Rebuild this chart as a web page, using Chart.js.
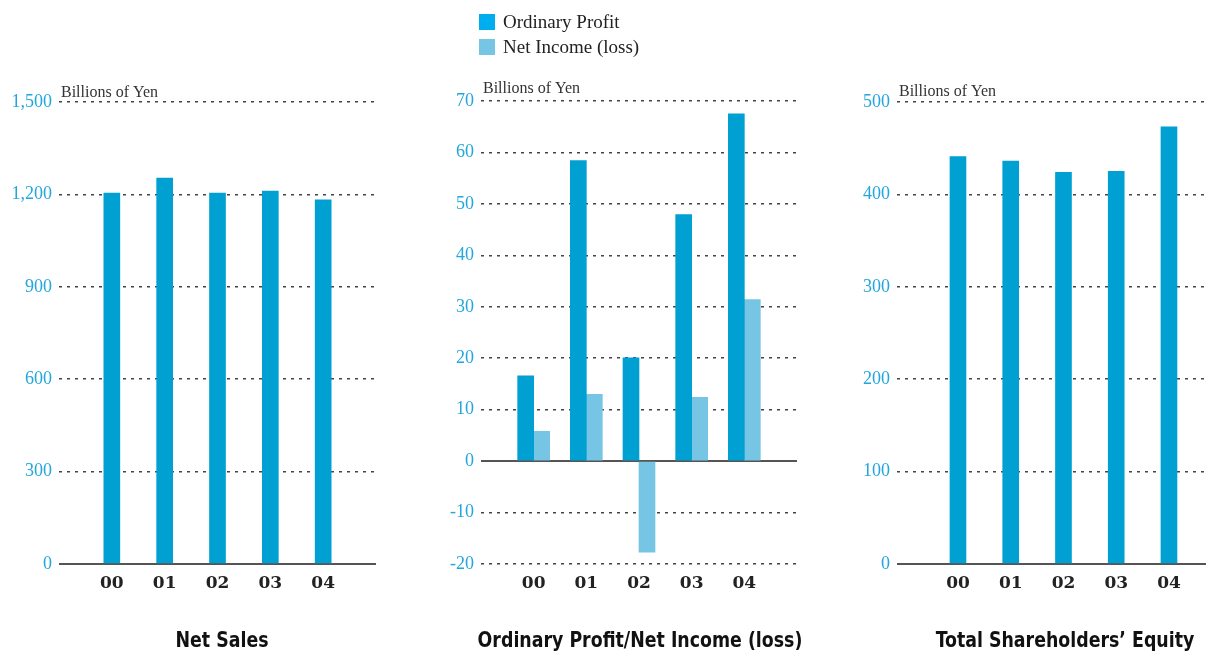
<!DOCTYPE html>
<html>
<head>
<meta charset="utf-8">
<script src="https://cdn.jsdelivr.net/npm/chart.js@4.4.0/dist/chart.umd.min.js"></script>
<style>
  html, body { margin: 0; padding: 0; width: 1206px; height: 652px; overflow: hidden; background: #fff; }
  .box { position: absolute; top: 0; height: 652px; }
  .caption {
    position: absolute; top: 628px; white-space: nowrap; transform: translateX(-50%) scaleX(0.92);
    font-family: "DejaVu Sans Condensed", "DejaVu Sans", sans-serif; font-stretch: condensed;
    font-weight: bold; font-size: 21px; line-height: 24px; color: #111;
  }
  #legend { position: absolute; left: 479px; top: 11px; font: 19px "Liberation Serif", serif; color: #222; }
  #legend div { height: 25px; line-height: 22px; white-space: nowrap; }
  #legend span { display: inline-block; width: 16px; height: 16px; margin-right: 8px; vertical-align: -2px; }
</style>
</head>
<body>
<div class="box" style="left:0;width:390px"><canvas id="sales"></canvas></div>
<div class="box" style="left:420px;width:390px"><canvas id="profit"></canvas></div>
<div class="box" style="left:840px;width:404px"><canvas id="equity"></canvas></div>
<div id="legend"></div>
<div class="caption" style="left:222px">Net Sales</div>
<div class="caption" style="left:640px">Ordinary Profit/Net Income (loss)</div>
<div class="caption" style="left:1065px">Total Shareholders’ Equity</div>
<script>
var years = ['00', '01', '02', '03', '04'];
var netSales = [1204, 1253, 1204, 1211, 1182];
var ordinaryProfit = [16.6, 58.4, 20.1, 47.9, 67.5];
var netIncome = [5.8, 13.0, -17.7, 12.4, 31.4];
var equity = [441, 436, 424, 425, 473];
var unit = 'Billions of Yen';

var darkBlue = '#00a0d2';
var lightBlue = '#77c5e4';

function points(values) {
    return values.map(function (v, i) {
        return { x: i + 1, y: v };
    });
}

var unitLabel = {
    id: 'unitLabel',
    afterDraw: function (chart, args, opts) {
        var ctx = chart.ctx;
        ctx.save();
        ctx.font = '16px "Liberation Serif", serif';
        ctx.fillStyle = '#333';
        ctx.textBaseline = 'alphabetic';
        ctx.fillText(unit, chart.chartArea.left + 2, chart.chartArea.top - opts.gap);
        ctx.restore();
    }
};

function makeChart(key, datasets, y, x, layout) {
    var config = {
        type: 'bar',
        data: { datasets: datasets },
        plugins: [unitLabel],
        options: {
            responsive: true,
            maintainAspectRatio: false,
            animation: false,
            layout: { padding: { top: layout.top, right: layout.right, left: 0, bottom: 0 } },
            plugins: {
                legend: { display: false },
                tooltip: { enabled: false },
                unitLabel: { gap: layout.gap }
            },
            scales: {
                x: {
                    type: 'linear',
                    offset: false,
                    min: x.min,
                    max: x.max,
                    afterBuildTicks: function (axis) {
                        axis.ticks = years.map(function (c, i) { return { value: i + 1 }; });
                    },
                    afterFit: function (axis) { axis.height = 88; },
                    grid: { display: false, drawTicks: false, offset: false },
                    border: { display: false },
                    ticks: {
                        autoSkip: false,
                        maxRotation: 0,
                        padding: 9,
                        color: '#222',
                        font: { family: 'DejaVu Serif', weight: 'bold', size: 17 },
                        callback: function (v) { return years[v - 1] || ''; }
                    }
                },
                y: {
                    min: y.min,
                    max: y.max,
                    afterFit: function (axis) { axis.width = layout.yWidth; },
                    grid: {
                        drawTicks: false,
                        color: function (c) { return c.tick && c.tick.value === 0 ? '#555' : '#444'; },
                        lineWidth: function (c) { return c.tick && c.tick.value === 0 ? 2 : 1.5; }
                    },
                    border: {
                        display: false,
                        dash: function (c) { return c.tick && c.tick.value === 0 ? [] : [3, 5]; }
                    },
                    ticks: {
                        stepSize: y.step,
                        padding: 7,
                        color: '#22a6dc',
                        font: { family: 'Liberation Serif', size: 18 },
                        callback: function (v) { return v.toLocaleString('en-US'); }
                    }
                }
            }
        }
    };
    var ctx = document.getElementById(key).getContext('2d');
    return new Chart(ctx, config);
}

makeChart('sales', [{
    label: 'Net Sales',
    data: points(netSales),
    backgroundColor: darkBlue,
    barThickness: 16
}], { min: 0, max: 1500, step: 300 }, { min: 0, max: 6 },
{ top: 102, right: 14, yWidth: 59, gap: 5 });

var profitSets = [{
    label: 'Ordinary Profit',
    data: points(ordinaryProfit),
    backgroundColor: darkBlue,
    legendColor: '#00aeef',
    barThickness: 16
}, {
    label: 'Net Income (loss)',
    data: points(netIncome),
    backgroundColor: lightBlue,
    legendColor: lightBlue,
    barThickness: 16
}];
makeChart('profit', profitSets, { min: -20, max: 70, step: 10 }, { min: 0, max: 6 },
{ top: 101, right: 13, yWidth: 61, gap: 8 });

makeChart('equity', [{
    label: 'Total Shareholders’ Equity',
    data: points(equity),
    backgroundColor: darkBlue,
    barThickness: 16
}], { min: 0, max: 500, step: 100 }, { min: -0.156, max: 6.157 },
{ top: 102, right: 14, yWidth: 57, gap: 6 });

var legend = document.getElementById('legend');
profitSets.forEach(function (ds) {
    var row = document.createElement('div');
    var sw = document.createElement('span');
    sw.style.background = ds.legendColor;
    row.appendChild(sw);
    row.appendChild(document.createTextNode(ds.label));
    legend.appendChild(row);
});
</script>
</body>
</html>
